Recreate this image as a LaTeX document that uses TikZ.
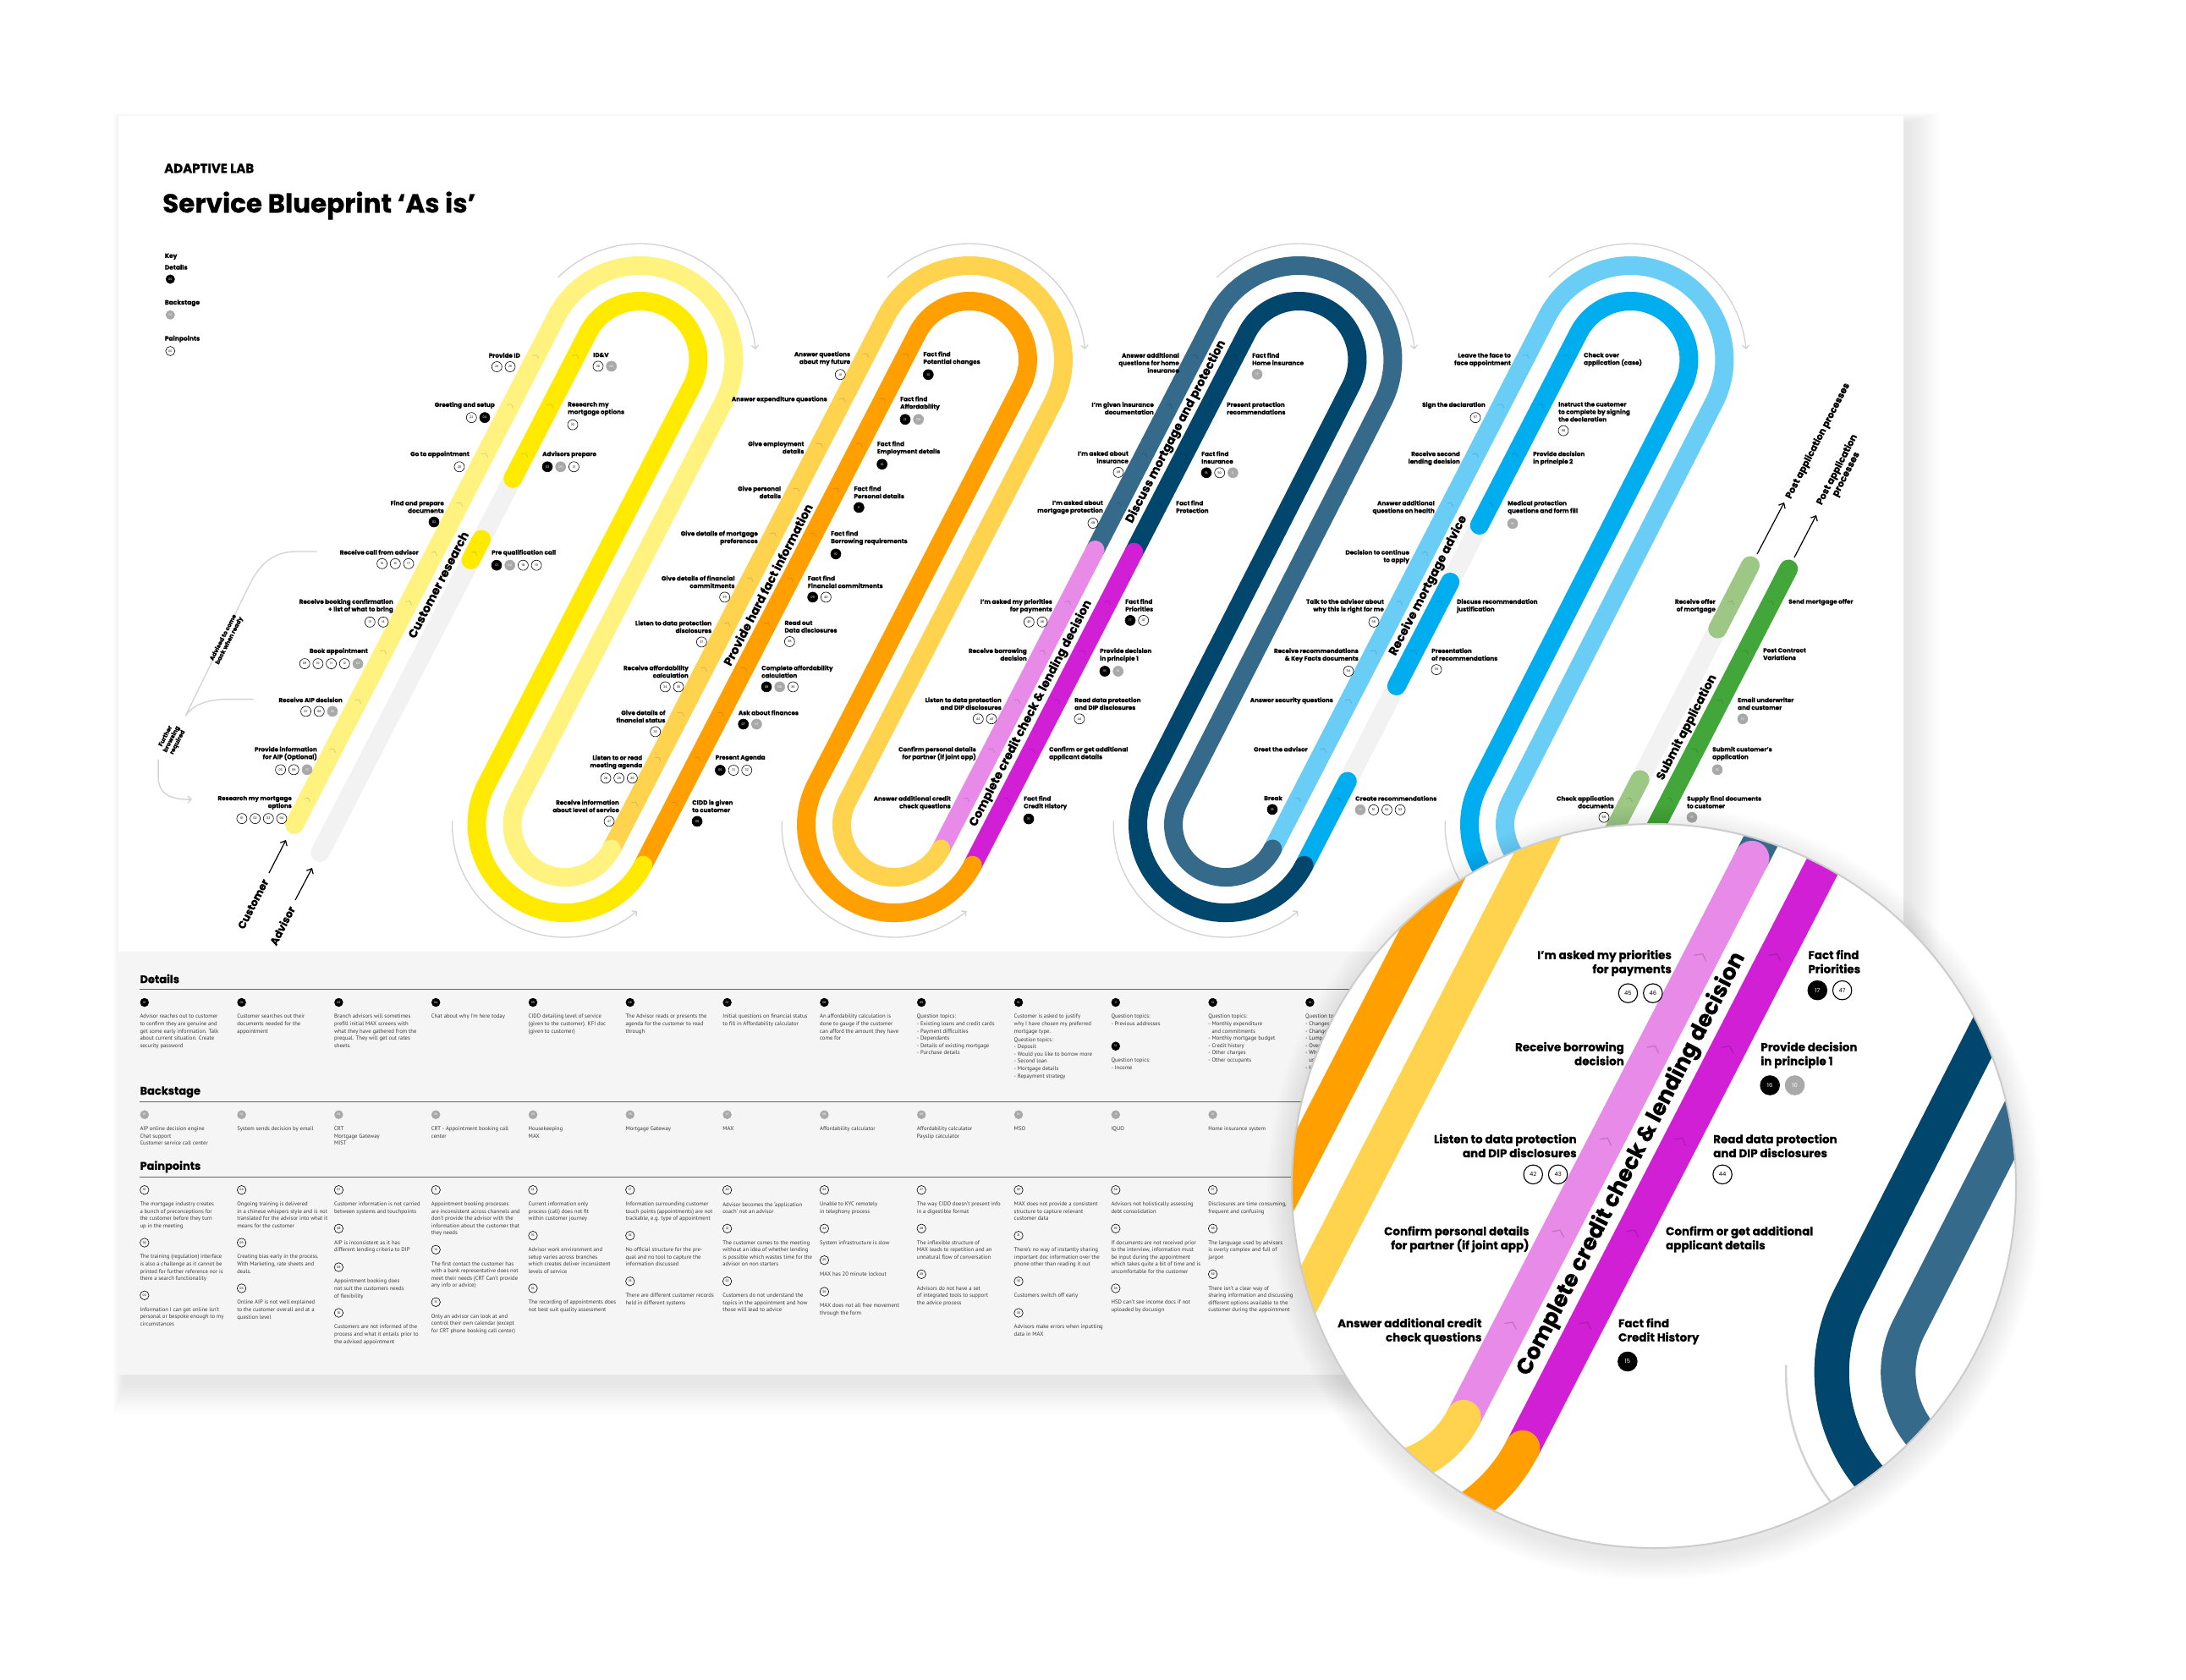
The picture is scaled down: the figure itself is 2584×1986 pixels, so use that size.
\documentclass[tikz,border=0pt]{standalone}
\usepackage{fontspec}
\setmainfont{Poppins}[BoldFeatures={FakeBold=0.6}]
\newfontfamily\detfont{PT Sans}
\usetikzlibrary{arrows.meta}
\definecolor{yA}{HTML}{FFF27F}
\definecolor{yB}{HTML}{FFEA00}
\definecolor{oA}{HTML}{FFD34E}
\definecolor{oB}{HTML}{FFA000}
\definecolor{pA}{HTML}{E78AE8}
\definecolor{pB}{HTML}{D11FD5}
\definecolor{nA}{HTML}{356A8A}
\definecolor{nB}{HTML}{00466D}
\definecolor{bA}{HTML}{69CDF6}
\definecolor{bB}{HTML}{00AEEF}
\definecolor{gA}{HTML}{9DC784}
\definecolor{gB}{HTML}{43A63A}
\definecolor{lane}{HTML}{F2F2F2}
\definecolor{cgray}{HTML}{A9A9A9}
\definecolor{guide}{HTML}{D2D2D2}
\definecolor{secbg}{HTML}{F5F5F5}
\newcommand\mg{1}
\newcommand\labfont{\fontsize{7.2}{8.9}\selectfont\bfseries}
\tikzset{
  stripe/.style={line width=\mg*22pt, line cap=round, line join=round},
  guidearr/.style={draw=guide, line width=\mg*1.3pt, -{Straight Barb[length=1.5pt 2, width=3pt 4]}},
  chev/.style={draw=black, draw opacity=0.16, line width=\mg*0.7pt, line cap=round, line join=round},
  lab/.style={font=\labfont, inner sep=0pt},
  lcirc/.style={circle, minimum size=12pt, inner sep=0pt, line width=\mg*0.6pt, font=\fontsize{3.6}{3.6}\selectfont},
  big/.style={font=\fontsize{14}{14}\selectfont\bfseries, rotate=62.73, inner sep=0pt},
  post/.style={font=\fontsize{11}{12}\selectfont\bfseries, rotate=62.73, inner sep=0pt, align=center},
  cust/.style={font=\fontsize{12.5}{13}\selectfont\bfseries, rotate=62.73, inner sep=0pt, anchor=east},
  parr/.style={line width=1.2pt, -{Straight Barb[length=2pt 2.5, width=4pt 4]}},
  bracket/.style={draw=guide, line width=1.3pt},
  side/.style={font=\fontsize{7}{8}\selectfont\bfseries, rotate=62.73, inner sep=0pt, align=center},
  keyt/.style={anchor=west, font=\fontsize{7.5}{8}\selectfont\bfseries, inner sep=0pt},
  sechead/.style={anchor=west, font=\fontsize{13}{14}\selectfont\bfseries, inner sep=0pt},
  rule/.style={line width=1.3pt, black!60},
  dtext/.style={anchor=north west, align=left, inner sep=0pt, font=\detfont\fontsize{6.7}{8.6}\selectfont, text=black!78},
  dcircb/.style={circle, minimum size=10.5pt, inner sep=0pt, fill=black, text=white, font=\fontsize{3.4}{3.4}\selectfont},
  dcircg/.style={circle, minimum size=10.5pt, inner sep=0pt, fill=cgray, text=white, font=\fontsize{3.4}{3.4}\selectfont},
  dcirco/.style={circle, minimum size=10.5pt, inner sep=0pt, draw=black, line width=0.6pt, text=black, font=\fontsize{3.4}{3.4}\selectfont},
}
% row of numbered circles under a label
\newcommand\crow[4]{%
  \if\relax\detokenize{#4}\relax\else
    \foreach \ctyp/\cnum [count=\ck] in {#4} {\xdef\ncirc{\ck}}%
    \foreach \ctyp/\cnum [count=\ck] in {#4} {%
      \pgfmathsetmacro\cx{(#3>0) ? (#2+(\ck-1)*15.7+6) : (#2-(\ncirc-\ck)*15.7-6)}%
      \if\ctyp b\def\cfil{black}\def\cdra{black}\def\ctex{white}%
      \else\if\ctyp g\def\cfil{cgray}\def\cdra{cgray}\def\ctex{white}%
      \else\def\cfil{white}\def\cdra{black}\def\ctex{black}\fi\fi
      \node[lcirc, fill=\cfil, draw=\cdra, text=\ctex, yshift=-10.5pt] (#1-c\ck) at (\cx,0 |- #1.south) {\cnum};
    }%
  \fi}
\newcommand\chev[2]{\draw[chev, shift={(#1,#2)}, rotate=-27.27] (-4,3) -- (0,0) -- (4,3);}
\newcommand\LL[5]{%
  \pgfmathsetmacro\lx{#2-0.5155*(#3-419.5)-43}%
  \node[lab, anchor=north east, align=right] (#1) at (\lx,#3-2.7) {#4};
  \crow{#1}{\lx-6}{-1}{#5}%
  \chev{\lx+19.4}{#3}}
\newcommand\RL[5]{%
  \pgfmathsetmacro\lx{#2-0.5155*(#3-419.5)+43}%
  \node[lab, anchor=north west, align=left] (#1) at (\lx,#3-2.7) {#4};
  \crow{#1}{\lx}{1}{#5}%
  \chev{\lx-19.4}{#3}}
\newcommand\ditem[5]{%
  \pgfmathsetmacro\dx{165.3+114.8*#1}%
  \node[dcirc#3] (d-#3-#4) at (\dx+5.5,#2) {#4};
  \node[dtext] (t-#3-#4) at (\dx,#2+13.9) {#5};}
% the journey loops (no text)
\newcommand\loopart{%
  \draw[guidearr] (659.55,328.13) arc[start angle=225,end angle=355,radius=137];
  \draw[guidearr] (1049.05,328.13) arc[start angle=225,end angle=355,radius=137];
  \draw[guidearr] (1438.55,328.13) arc[start angle=225,end angle=355,radius=137];
  \draw[guidearr] (1830.55,328.13) arc[start angle=225,end angle=355,radius=137];
  \draw[guidearr] (534.73,970.36) arc[start angle=182,end angle=50,radius=133];
  \draw[guidearr] (924.23,970.36) arc[start angle=182,end angle=50,radius=133];
  \draw[guidearr] (1316.23,970.36) arc[start angle=182,end angle=50,radius=133];
  \draw[guidearr] (1708.23,970.36) arc[start angle=182,end angle=50,radius=133];
  % stage F
  \draw[stripe, lane] (1896.35,1003.45) -- (2069.0,668.5);
  \draw[stripe, gA] (1896.35,1003.45) -- (1938.6,921.5);
  \draw[stripe, gA] (2030.3,743.6) -- (2069.0,668.5);
  \draw[stripe, gB] (1933.68,1022.7) -- (2114.2,672.5);
  % stage E
  \draw[stripe, bA] (1504.35,1003.45) -- (1828.75,374.14) arc[start angle=207.27,end angle=387.27,radius=111] -- (1785.95,946.55) arc[start angle=207.27,end angle=27.27,radius=62.1];
  \draw[stripe, lane] (1541.68,1022.7) -- (1748.7,621);
  \draw[stripe, bB] (1541.68,1022.7) -- (1592.8,923.5);
  \draw[stripe, bB] (1650.8,811) -- (1714.2,688);
  \draw[stripe, bB] (1748.7,621) -- (1866.09,393.38) arc[start angle=207.27,end angle=387.27,radius=69] -- (1748.62,927.3) arc[start angle=207.27,end angle=27.27,radius=104.1];
  % stage D
  \draw[stripe, nA] (1294.55,650) -- (1436.75,374.14) arc[start angle=207.27,end angle=387.27,radius=111] -- (1393.95,946.55) arc[start angle=207.27,end angle=27.27,radius=62.1];
  \draw[stripe, nB] (1340.4,652.7) -- (1474.09,393.38) arc[start angle=207.27,end angle=387.27,radius=69] -- (1356.62,927.3) arc[start angle=207.27,end angle=27.27,radius=104.1];
  % stage C
  \draw[stripe, pA] (1112.35,1003.45) -- (1294.55,650);
  \draw[stripe, pB] (1149.68,1022.7) -- (1340.4,652.7);
  % stage B
  \draw[stripe, oA] (722.85,1003.45) -- (1047.25,374.14) arc[start angle=207.27,end angle=387.27,radius=111] -- (1001.95,946.55) arc[start angle=207.27,end angle=27.27,radius=62.1];
  \draw[stripe, oB] (760.18,1022.7) -- (1084.59,393.38) arc[start angle=207.27,end angle=387.27,radius=69] -- (964.62,927.3) arc[start angle=207.27,end angle=27.27,radius=104.1];
  % stage A
  \draw[stripe, yA] (348.0,975) -- (657.75,374.14) arc[start angle=207.27,end angle=387.27,radius=111] -- (612.45,946.55) arc[start angle=207.27,end angle=27.27,radius=62.1];
  \draw[stripe, lane] (378.3,1008) -- (606.2,565.8);
  \draw[stripe, yB] (569.2,637.5) -- (556.6,662);
  \draw[stripe, yB] (606.2,565.8) -- (695.09,393.38) arc[start angle=207.27,end angle=387.27,radius=69] -- (575.12,927.3) arc[start angle=207.27,end angle=27.27,radius=104.1];
}
% labels of the credit check stage (also shown in the magnifier)
\newcommand\stageC{%
  \node[big] (sC) at (1218.5,843.4) {Complete credit check \& lending decision};
  \LL{c5}{1437}{710.5}{I’m asked my priorities\\for payments}{o/45,o/46}
  \LL{c6}{1437}{768.7}{Receive borrowing\\decision}{}
  \LL{c7}{1437}{826.9}{Listen to data protection\\and DIP disclosures}{o/42,o/43}
  \LL{c8}{1437}{885.1}{Confirm personal details\\for partner (if joint app)}{}
  \LL{c9}{1437}{943.3}{Answer additional credit\\check questions}{}
  \RL{cr5}{1437}{710.5}{Fact find\\Priorities}{b/17,o/47}
  \RL{cr6}{1437}{768.7}{Provide decision\\in principle 1}{b/16,g/10}
  \RL{cr7}{1437}{826.9}{Read data protection\\and DIP disclosures}{o/44}
  \RL{cr8}{1437}{885.1}{Confirm or get additional\\applicant details}{}
  \RL{cr9}{1437}{943.3}{Fact find\\Credit History}{b/15}
}
% all other journey labels
\newcommand\otherlabels{%
  \node[big] (sA) at (517.9,691.3) {Customer research};
  \node[big] (sB) at (907.5,691) {Provide hard fact information};
  \node[big] (sD) at (1390.1,510.4) {Discuss mortgage and protection};
  \node[big] (sE) at (1688.4,692.3) {Receive mortgage advice};
  \node[big] (sF) at (1994,860) {Submit application};
  % stage A
  \LL{a0}{658}{419.5}{Provide ID}{o/24,o/25}
  \LL{a1}{658}{477.7}{Greeting and setup}{o/22,b/04}
  \LL{a2}{658}{535.9}{Go to appointment}{o/20}
  \LL{a3}{658}{594.1}{Find and prepare\\documents}{b/02}
  \LL{a4}{658}{652.3}{Receive call from advisor}{o/15,o/16,o/17}
  \LL{a5}{658}{710.5}{Receive booking confirmation\\+ list of what to bring}{o/13,o/14}
  \LL{a6}{658}{768.7}{Book appointment}{o/09,o/10,o/11,o/12,g/03}
  \LL{a7}{658}{826.9}{Receive AIP decision}{o/07,o/08,g/02}
  \LL{a8}{658}{885.1}{Provide information\\for AIP (Optional)}{o/05,o/06,g/01}
  \LL{a9}{658}{943.3}{Research my mortgage\\options}{o/01,o/02,o/03,o/04}
  \RL{ar0}{658}{419.5}{ID\&V}{o/26,g/06}
  \RL{ar1}{658}{477.7}{Research my\\mortgage options}{o/23}
  \RL{ar2}{658}{535.9}{Advisors prepare}{b/03,g/05,o/21}
  \RL{ar4}{658}{652.3}{Pre qualification call}{b/01,g/04,o/18,o/19}
  % stage B
  \LL{b0}{1047.5}{418}{Answer questions\\about my future}{o/41}
  \LL{b1}{1047.5}{471}{Answer expenditure questions}{}
  \LL{b2}{1047.5}{524}{Give employment\\details}{}
  \LL{b3}{1047.5}{577}{Give personal\\details}{}
  \LL{b4}{1047.5}{630}{Give details of mortgage\\preferences}{}
  \LL{b5}{1047.5}{683}{Give details of financial\\commitments}{o/39}
  \LL{b6}{1047.5}{736}{Listen to data protection\\disclosures}{o/37}
  \LL{b7}{1047.5}{789}{Receive affordability\\calculation}{o/34,o/35}
  \LL{b8}{1047.5}{842}{Give details of\\financial status}{o/33}
  \LL{b9}{1047.5}{895}{Listen to or read\\meeting agenda}{o/28,o/29,o/30}
  \LL{b10}{1047.5}{948}{Receive information\\about level of service}{o/27}
  \RL{br0}{1047.5}{418}{Fact find\\Potential changes}{b/14}
  \RL{br1}{1047.5}{471}{Fact find\\Affordability}{b/13,g/09}
  \RL{br2}{1047.5}{524}{Fact find\\Employment details}{b/12}
  \RL{br3}{1047.5}{577}{Fact find\\Personal details}{b/11}
  \RL{br4}{1047.5}{630}{Fact find\\Borrowing requirements}{b/10}
  \RL{br5}{1047.5}{683}{Fact find\\Financial commitments}{b/09,o/40}
  \RL{br6}{1047.5}{736}{Read out\\Data disclosures}{o/38}
  \RL{br7}{1047.5}{789}{Complete affordability\\calculation}{b/08,g/08,o/36}
  \RL{br8}{1047.5}{842}{Ask about finances}{b/07,g/07}
  \RL{br9}{1047.5}{895}{Present Agenda}{b/06,o/31,o/32}
  \RL{br10}{1047.5}{948}{CIDD is given\\to customer}{b/05}
  % stage D
  \LL{c0}{1437}{419.5}{Answer additional\\questions for home\\insurance}{}
  \LL{c1}{1437}{477.7}{I’m given insurance\\documentation}{}
  \LL{c2}{1437}{535.9}{I’m asked about\\insurance}{o/49}
  \LL{c3}{1437}{594.1}{I’m asked about\\mortgage protection}{o/48}
  \RL{cr0}{1437}{419.5}{Fact find\\Home insurance}{g/12}
  \RL{cr1}{1437}{477.7}{Present protection\\recommendations}{}
  \RL{cr2}{1437}{535.9}{Fact find\\Insurance}{b/18,o/50,g/11}
  \RL{cr3}{1437}{594.1}{Fact find\\Protection}{}
  % stage E
  \LL{e0}{1829}{419.5}{Leave the face to\\face appointment}{}
  \LL{e1}{1829}{477.7}{Sign the declaration}{o/57}
  \LL{e2}{1829}{535.9}{Receive second\\lending decision}{}
  \LL{e3}{1829}{594.1}{Answer additional\\questions on health}{}
  \LL{e4}{1829}{652.3}{Decision to continue\\to apply}{}
  \LL{e5}{1829}{710.5}{Talk to the advisor about\\why this is right for me}{o/56}
  \LL{e6}{1829}{768.7}{Receive recommendations\\\& Key Facts documents}{o/54}
  \LL{e7}{1829}{826.9}{Answer security questions}{}
  \LL{e8}{1829}{885.1}{Greet the advisor}{}
  \LL{e9}{1829}{943.3}{Break}{b/19}
  \RL{er0}{1829}{419.5}{Check over\\application (case)}{}
  \RL{er1}{1829}{477.7}{Instruct the customer\\to complete by signing\\the declaration}{o/58}
  \RL{er2}{1829}{535.9}{Provide decision\\in principle 2}{}
  \RL{er3}{1829}{594.1}{Medical protection\\questions and form fill}{g/14}
  \RL{er5}{1829}{710.5}{Discuss recommendation\\justification}{}
  \RL{er6}{1829}{768.7}{Presentation\\of recommendations}{o/55}
  \RL{er9}{1829}{943.3}{Create recommendations}{g/13,o/51,o/52,o/53}
  % stage F
  \LL{f5}{2221}{710.5}{Receive offer\\of mortgage}{}
  \LL{f9}{2221}{943.3}{Check application\\documents}{o/59}
  \RL{fr5}{2221}{710.5}{Send mortgage offer}{}
  \RL{fr6}{2221}{768.7}{Post Contract\\Variations}{}
  \RL{fr7}{2221}{826.9}{Email underwriter\\and customer}{g/17}
  \RL{fr8}{2221}{885.1}{Submit customer’s\\application}{g/16}
  \RL{fr9}{2221}{943.3}{Supply final documents\\to customer}{g/15}
}
\begin{document}
\begin{tikzpicture}[x=1pt,y=-1pt]
\useasboundingbox (0,0) rectangle (2584,1986);
\fill[white] (0,0) rectangle (2584,1986);
% poster shadow and sheet
\foreach \i in {1,...,12} {\fill[black, opacity=0.007] (140-1*\i+6,137-1*\i+8) rectangle (2250+3*\i+6,1625+3*\i+10);}
\fill[white] (140,137) rectangle (2250,1625);
\fill[secbg] (140,1125) rectangle (2250,1625);
% header
\node[anchor=west, inner sep=0pt, font=\fontsize{15}{16}\selectfont\bfseries] (brand) at (194,199) {ADAPTIVE LAB};
\node[anchor=west, inner sep=0pt, font=\fontsize{31}{33}\selectfont\bfseries] (title) at (192,243) {Service Blueprint ‘As is’};
% key
\node[keyt] (key) at (194.6,303.3) {Key};
\node[keyt] (keyd) at (194.6,315.7) {Details};
\node[dcircb, minimum size=11pt] (keyc1) at (201.3,330) {00};
\node[keyt] (keyb) at (194.6,358.3) {Backstage};
\node[dcircg, minimum size=11pt] (keyc2) at (201.3,372.3) {01};
\node[keyt] (keyp) at (194.6,400.7) {Painpoints};
\node[dcirco, minimum size=11pt] (keyc3) at (201.3,415) {00};
% sections
\node[sechead] (hdet) at (165.3,1157) {Details};
\draw[rule] (165.3,1169.3) -- (2235,1169.3);
\node[sechead] (hback) at (165.3,1291) {Backstage};
\draw[rule] (165.3,1302.7) -- (2235,1302.7);
\node[sechead] (hpain) at (165.3,1379.3) {Painpoints};
\draw[rule] (165.3,1391.3) -- (2235,1391.3);
% details
\ditem{0}{1185}{b}{01}{Advisor reaches out to customer\\to confirm they are genuine and\\get some early information. Talk\\about current situation. Create\\security password}
\ditem{1}{1185}{b}{02}{Customer searches out their\\documents needed for the\\appointment}
\ditem{2}{1185}{b}{03}{Branch advisors will sometimes\\prefill initial MAX screens with\\what they have gathered from the\\prequal. They will get out rates\\sheets.}
\ditem{3}{1185}{b}{04}{Chat about why I’m here today}
\ditem{4}{1185}{b}{05}{CIDD  detailing level of service\\(given to the customer). KFI doc\\(given to customer)}
\ditem{5}{1185}{b}{06}{The Advisor reads or presents the\\agenda for the customer to read\\through}
\ditem{6}{1185}{b}{07}{Initial questions on financial status\\to fill in Affordability calculator}
\ditem{7}{1185}{b}{08}{An affordability calculation is\\done to gauge if the customer\\can afford the amount they have\\come for}
\ditem{8}{1185}{b}{09}{Question topics:\\- Existing loans and credit cards\\- Payment difficulties\\- Dependants\\- Details of existing mortgage\\- Purchase details}
\ditem{9}{1185}{b}{10}{Customer is asked to justify\\why I have chosen my preferred\\mortgage type.\\[1.5pt]Question topics:\\- Deposit\\- Would you like to borrow more\\- Second loan\\- Mortgage details\\- Repayment strategy}
\ditem{10}{1185}{b}{11}{Question topics:\\- Previous addresses}
\ditem{10}{1236.7}{b}{12}{Question topics:\\- Income}
\ditem{11}{1185}{b}{13}{Question topics:\\- Monthly expenditure\\\phantom{- }and commitments\\- Monthly mortgage budget\\- Credit history\\- Other charges\\- Other occupants}
\ditem{12}{1185}{b}{14}{Question topics:\\- Changes in income\\- Changes in outgoings\\- Lump sums\\- Overpayments\\- When will you\\\phantom{- }use the mortgage\\- Holidays}
% backstage
\ditem{0}{1317.7}{g}{01}{AIP online decision engine\\Chat support\\Customer service call center}
\ditem{1}{1317.7}{g}{02}{System sends decision by email}
\ditem{2}{1317.7}{g}{03}{CRT\\Mortgage Gateway\\MIST}
\ditem{3}{1317.7}{g}{04}{CRT - Appointment booking call\\center}
\ditem{4}{1317.7}{g}{05}{Housekeeping\\MAX}
\ditem{5}{1317.7}{g}{06}{Mortgage Gateway}
\ditem{6}{1317.7}{g}{07}{MAX}
\ditem{7}{1317.7}{g}{08}{Affordability calculator}
\ditem{8}{1317.7}{g}{09}{Affordability calculator\\Payslip calculator}
\ditem{9}{1317.7}{g}{10}{MSO}
\ditem{10}{1317.7}{g}{11}{IQUO}
\ditem{11}{1317.7}{g}{12}{Home insurance system}
% painpoints
\ditem{0}{1406.7}{o}{01}{The mortgage industry creates\\a bunch of preconceptions for\\the customer before they turn\\up in the meeting}
\ditem{0}{1469}{o}{02}{The training (regulation) interface\\is also a challenge as it cannot be\\printed for further reference nor is\\there a search functionality}
\ditem{0}{1531.3}{o}{03}{Information I can get online isn’t\\personal or bespoke enough to my\\circumstances}
\ditem{1}{1406.7}{o}{04}{Ongoing training is delivered\\in a chinese whispers style and is not\\translated for the advisor into what it\\means for the customer}
\ditem{1}{1469}{o}{05}{Creating bias early in the process.\\With Marketing, rate sheets and\\deals.}
\ditem{1}{1523}{o}{06}{Online AIP is not well explained\\to the customer overall and at a\\question level}
\ditem{2}{1406.7}{o}{07}{Customer information is not carried\\between systems and touchpoints}
\ditem{2}{1452.3}{o}{08}{AIP is inconsistent as it has\\different lending criteria to DIP}
\ditem{2}{1498}{o}{09}{Appointment booking does\\not suit the customers needs\\of flexibility}
\ditem{2}{1552}{o}{10}{Customers are not informed of the\\process and what it entails prior to\\the advised appointment}
\ditem{3}{1406.7}{o}{11}{Appointment booking processes\\are inconsistent across channels and\\don’t provide the advisor with the\\information about the customer that\\they needs}
\ditem{3}{1477.3}{o}{12}{The first contact the customer has\\with a bank representative does not\\meet their needs (CRT Can’t provide\\any info or advice)}
\ditem{3}{1539.3}{o}{13}{Only an advisor can look at and\\control their own calendar (except\\for CRT phone booking call center)}
\ditem{4}{1406.7}{o}{14}{Current information only\\process (call) does not fit\\within customer journey}
\ditem{4}{1460.7}{o}{15}{Advisor work environment and\\setup varies across branches\\which creates deliver inconsistent\\levels of service}
\ditem{4}{1523}{o}{16}{The recording of appointments does\\not best suit quality assessment}
\ditem{5}{1406.7}{o}{17}{Information surrounding customer\\touch points (appointments) are not\\trackable, e.g. type of appointment}
\ditem{5}{1460.7}{o}{18}{No official structure for the pre-\\qual and no tool to capture the\\information discussed}
\ditem{5}{1514.7}{o}{19}{There are different customer records\\held in different systems}
\ditem{6}{1406.7}{o}{20}{Advisor becomes the ‘application\\coach’ not an advisor}
\ditem{6}{1452.3}{o}{21}{The customer comes to the meeting\\without an idea of whether lending\\is possible which wastes time for the\\advisor on non starters}
\ditem{6}{1514.7}{o}{22}{Customers do not understand the\\topics in the appointment and how\\those will lead to advice}
\ditem{7}{1406.7}{o}{23}{Unable to KYC remotely\\in telephony process}
\ditem{7}{1452.3}{o}{24}{System infrastructure is slow}
\ditem{7}{1489.7}{o}{25}{MAX has 20 minute lockout}
\ditem{7}{1527}{o}{26}{MAX does not all free movement\\through the form}
\ditem{8}{1406.7}{o}{27}{The way CIDD doesn’t present info\\in a digestible format}
\ditem{8}{1452.3}{o}{28}{The inflexible structure of\\MAX leads to repetition and an\\unnatural flow of conversation}
\ditem{8}{1506.3}{o}{29}{Advisors do not have a set\\of integrated tools to support\\the advice process}
\ditem{9}{1406.7}{o}{30}{MAX does not provide a consistent\\structure to capture relevant\\customer data}
\ditem{9}{1460.7}{o}{31}{There’s no way of instantly sharing\\important doc information over the\\phone other than reading it out}
\ditem{9}{1514.7}{o}{32}{Customers switch off early}
\ditem{9}{1552}{o}{33}{Advisors make errors when inputting\\data in MAX}
\ditem{10}{1406.7}{o}{34}{Advisors not holistically assessing\\debt consolidation}
\ditem{10}{1452.3}{o}{35}{If documents are not received prior\\to the interview, information must\\be input during the appointment\\which takes quite a bit of time and is\\uncomfortable for the customer}
\ditem{10}{1523}{o}{36}{HSD can’t see income docs if not\\uploaded by docusign}
\ditem{11}{1406.7}{o}{37}{Disclosures are time consuming,\\frequent and confusing}
\ditem{11}{1452.3}{o}{38}{The language used by advisors\\is overly complex and full of\\jargon}
\ditem{11}{1506.3}{o}{39}{There isn’t a clear way of\\sharing information and discussing\\different options available to the\\customer during the appointment}
% journey
\loopart
\stageC
\otherlabels
% entry arrows
\node[cust] (custn) at (314,1040) {Customer};
\coordinate (custa) at (318,1032);
\coordinate (custb) at (338,993);
\draw[parr] (custa) -- (custb);
\node[cust] (advn) at (345,1072) {Advisor};
\coordinate (adva) at (349,1064);
\coordinate (advb) at (369,1026);
\draw[parr] (adva) -- (advb);
% side loops
\coordinate (br1a) at (374.6,652);
\coordinate (br1b) at (219.3,846.4);
\draw[bracket] (br1a) -- (350,652) .. controls (322,652) and (306,668) .. (294,693) -- (br1b);
\coordinate (br2a) at (299.6,826.6);
\draw[bracket] (br2a) -- (270,826.6) .. controls (245,826.6) and (228,833) .. (br1b);
\coordinate (br3a) at (187.1,897.8);
\coordinate (br3b) at (227,945.2);
\draw[bracket, -{Straight Barb[length=1.5pt 2, width=3pt 4]}] (br3a) -- (187.1,918) .. controls (187.1,938) and (200,945.2) .. (br3b);
\node[side] (adv2) at (267.5,755.5) {Advised to come\\back when ready};
\node[side] (furth) at (203,874) {Further\\browsing\\required};
% post application
\coordinate (pa1s) at (2077,655);
\coordinate (pa1e) at (2109,594);
\draw[parr] (pa1s) -- (pa1e);
\node[post, anchor=west] (pa1) at (2114,589) {Post application processes};
\coordinate (pa2s) at (2121,659);
\coordinate (pa2e) at (2147,609);
\draw[parr] (pa2s) -- (pa2e);
\node[post] (pa2) at (2177,558) {Post application\\processes};
% magnifier
\foreach \i in {1,...,12} {\fill[black, opacity=0.007] (1955,1410) circle[radius=428+2.5*\i];}
\begin{scope}
  \clip (1955,1402) circle[radius=428];
  \fill[white] (1955,1402) circle[radius=428];
  \begin{scope}[shift={(-350,-201)}, scale=1.87, transform shape]
    \renewcommand\mg{1.87}
    \loopart
    \stageC
  \end{scope}
\end{scope}
\draw[line width=2pt, black!20] (1955,1402) circle[radius=428];
\end{tikzpicture}
\end{document}
